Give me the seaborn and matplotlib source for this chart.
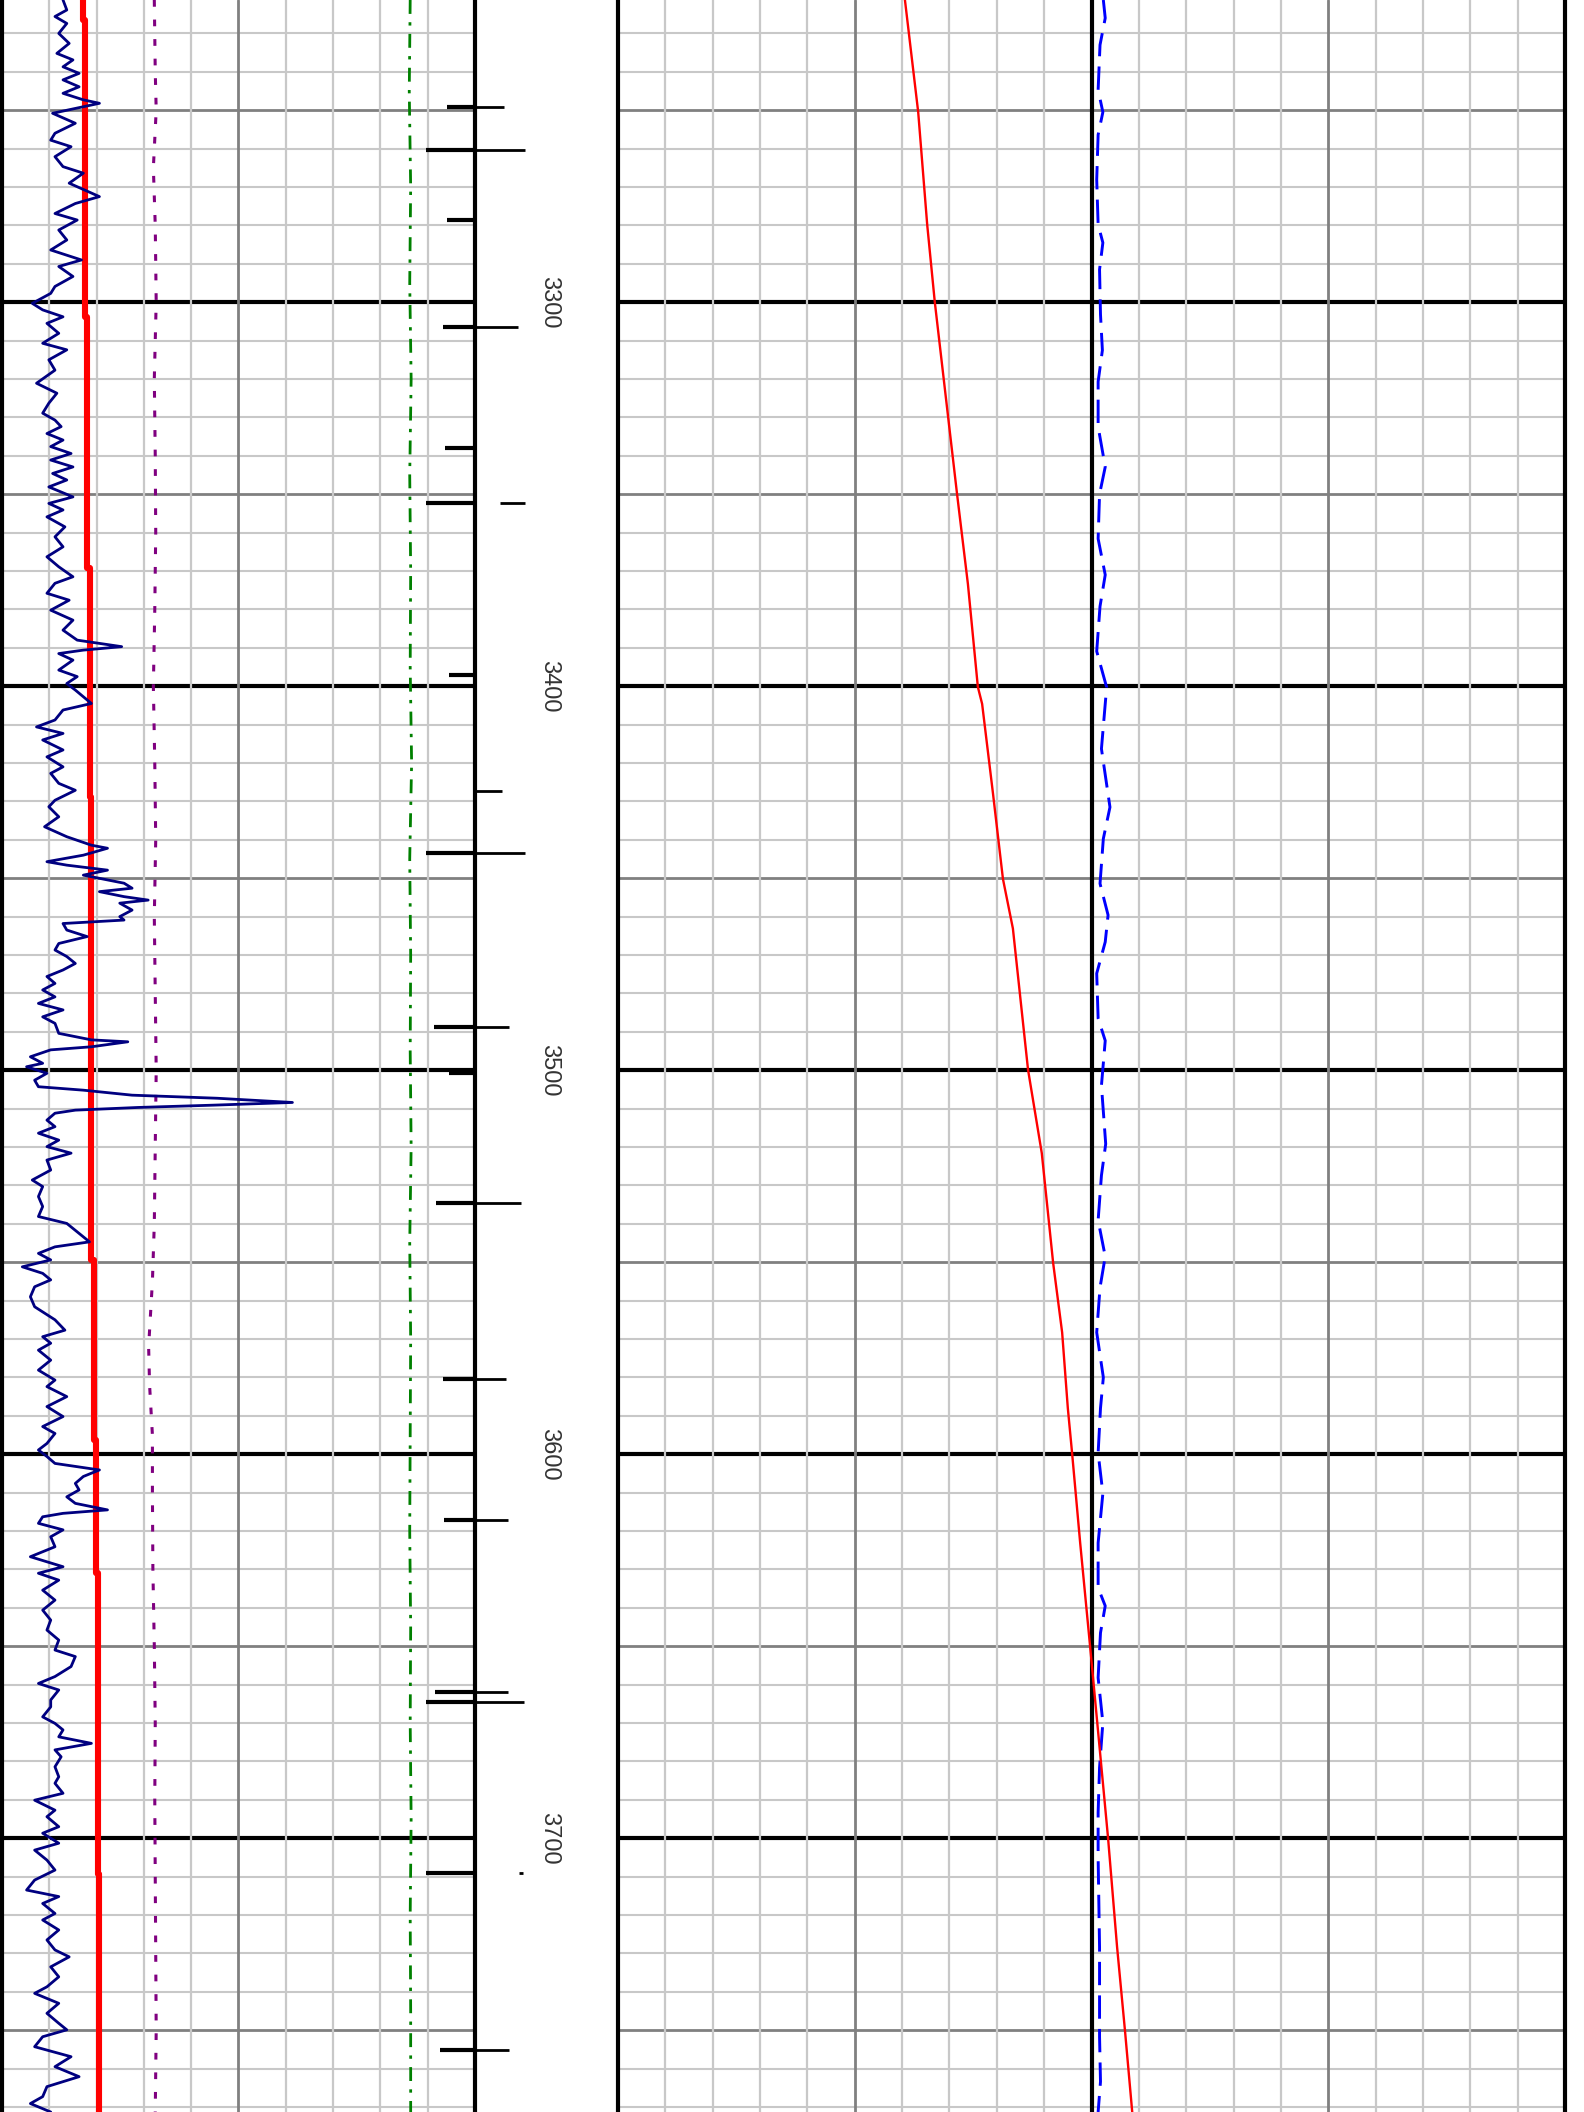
import matplotlib.pyplot as plt
import numpy as np
import pandas as pd
import seaborn as sns

# depth window shown (ft)
top, base = 3221.3, 3771.3

# left track, GR-like curve (scale 0-100 across the track)
gr_depth = [3221.3, 3223.9, 3225.6, 3227.4, 3230.0, 3232.6, 3235.2, 3236.9, 3238.7, 3240.4,
            3242.1, 3243.9, 3245.6, 3247.3, 3248.2, 3249.1, 3250.8, 3253.4, 3256.0, 3257.8,
            3259.5, 3262.1, 3264.7, 3266.4, 3269.0, 3272.5, 3274.3, 3276.9, 3278.6, 3281.2,
            3283.8, 3286.4, 3289.0, 3290.7, 3293.3, 3295.9, 3297.7, 3300.3, 3302.0, 3303.8,
            3305.5, 3308.1, 3310.7, 3312.4, 3315.0, 3317.7, 3321.1, 3323.7, 3326.3, 3328.9,
            3330.7, 3332.4, 3334.2, 3335.9, 3337.6, 3339.4, 3341.1, 3342.9, 3344.6, 3346.3,
            3348.1, 3350.7, 3352.4, 3354.1, 3355.9, 3358.5, 3361.1, 3363.7, 3366.3, 3368.9,
            3371.5, 3373.2, 3375.8, 3377.6, 3380.2, 3382.8, 3385.4, 3388.0, 3389.7, 3390.6,
            3391.5, 3393.2, 3395.8, 3397.5, 3399.3, 3401.0, 3404.5, 3406.2, 3408.8, 3410.6,
            3412.3, 3414.0, 3416.6, 3418.4, 3421.0, 3422.7, 3425.3, 3427.1, 3429.7, 3431.4,
            3434.0, 3436.6, 3439.2, 3441.4, 3442.2, 3444.0, 3445.7, 3446.6, 3447.9, 3449.2,
            3451.3, 3452.6, 3453.5, 3454.8, 3455.7, 3456.5, 3458.3, 3460.0, 3460.9, 3461.8,
            3463.5, 3465.2, 3467.0, 3468.7, 3470.4, 3472.2, 3473.9, 3475.6, 3477.4, 3479.1,
            3480.9, 3482.6, 3484.3, 3486.1, 3487.8, 3490.4, 3492.1, 3492.6, 3493.9, 3494.7,
            3496.5, 3498.2, 3499.1, 3500.8, 3502.6, 3504.3, 3505.2, 3506.5, 3507.3, 3508.4,
            3509.1, 3509.7, 3510.4, 3511.2, 3513.0, 3514.7, 3516.4, 3518.2, 3519.9, 3521.6,
            3523.4, 3526.0, 3528.6, 3530.3, 3532.9, 3535.5, 3538.1, 3539.9, 3542.5, 3544.7,
            3546.0, 3547.7, 3549.4, 3551.2, 3552.9, 3554.6, 3556.4, 3559.0, 3561.6, 3565.0,
            3567.7, 3569.4, 3571.1, 3572.9, 3575.5, 3578.1, 3580.7, 3582.4, 3585.0, 3587.6,
            3590.2, 3592.8, 3594.6, 3597.2, 3598.9, 3600.6, 3602.4, 3604.1, 3605.8, 3607.6,
            3609.3, 3611.1, 3612.8, 3614.5, 3615.4, 3616.3, 3618.0, 3619.7, 3621.5, 3624.1,
            3626.7, 3629.3, 3631.0, 3632.8, 3635.4, 3638.0, 3640.6, 3643.2, 3645.8, 3648.4,
            3651.0, 3652.7, 3655.3, 3657.9, 3659.7, 3661.4, 3664.0, 3665.8, 3668.4, 3670.1,
            3671.8, 3673.6, 3675.3, 3677.0, 3678.8, 3681.4, 3684.0, 3685.7, 3688.3, 3690.1,
            3692.7, 3694.4, 3697.0, 3698.7, 3701.3, 3703.1, 3705.7, 3708.3, 3710.9, 3713.5,
            3715.2, 3717.0, 3719.6, 3721.3, 3723.9, 3726.5, 3729.1, 3730.9, 3733.5, 3736.1,
            3738.7, 3740.4, 3743.0, 3745.6, 3748.2, 3749.9, 3751.7, 3754.3, 3756.9, 3759.5,
            3762.1, 3764.7, 3767.3, 3769.1, 3771.3]
gr_val = [12.9, 13.7, 11.2, 13.7, 12.0, 14.2, 11.6, 15.0, 12.9, 16.3,
          12.9, 16.3, 12.9, 17.2, 20.6, 17.2, 10.7, 15.5, 11.2, 10.3,
          14.6, 11.2, 12.9, 17.2, 14.2, 20.6, 15.5, 11.2, 15.9, 12.0,
          13.7, 10.3, 16.8, 12.0, 15.0, 11.2, 10.3, 6.4, 8.6, 12.9,
          9.5, 12.0, 8.6, 13.7, 9.9, 11.2, 7.3, 11.6, 9.9, 8.6,
          11.2, 12.5, 9.5, 12.9, 10.3, 14.6, 10.3, 15.0, 10.7, 13.7,
          9.9, 15.0, 9.9, 12.9, 9.5, 13.3, 11.2, 12.9, 9.5, 12.0,
          15.0, 11.2, 9.5, 14.2, 10.3, 15.0, 12.9, 15.9, 25.3, 17.2,
          12.0, 15.0, 12.0, 15.9, 13.7, 15.5, 18.9, 12.9, 11.2, 7.3,
          12.9, 8.6, 12.9, 9.5, 12.9, 10.3, 12.0, 15.5, 11.2, 9.9,
          12.0, 9.0, 13.7, 18.9, 22.3, 17.2, 9.5, 13.7, 22.3, 17.2,
          25.8, 27.5, 20.6, 25.8, 30.9, 24.9, 27.5, 24.9, 25.8, 12.9,
          13.7, 18.0, 12.0, 11.2, 13.7, 15.5, 12.9, 9.5, 11.2, 8.6,
          11.2, 7.7, 12.9, 8.6, 11.2, 12.0, 18.9, 26.6, 18.9, 10.3,
          6.0, 8.6, 5.2, 9.5, 6.9, 7.7, 17.2, 27.5, 45.5, 61.4,
          44.7, 28.8, 15.5, 11.2, 9.5, 11.2, 7.7, 12.0, 9.5, 14.6,
          9.5, 10.3, 6.4, 8.6, 7.7, 8.6, 7.7, 13.7, 16.3, 18.5,
          11.2, 7.7, 10.3, 4.3, 8.6, 10.3, 6.9, 6.0, 6.9, 11.2,
          13.3, 8.6, 10.3, 7.7, 10.3, 7.7, 11.2, 9.5, 13.7, 9.5,
          12.9, 8.6, 11.2, 9.5, 7.7, 9.5, 11.2, 20.6, 17.2, 15.5,
          16.3, 13.7, 15.5, 22.3, 12.9, 8.6, 7.7, 12.9, 10.3, 11.2,
          6.0, 12.9, 7.7, 12.0, 8.6, 11.2, 8.6, 10.3, 9.5, 12.0,
          11.2, 15.5, 14.6, 11.2, 7.7, 12.0, 10.3, 10.3, 8.6, 11.2,
          12.9, 12.0, 18.9, 11.2, 12.5, 11.2, 12.0, 11.2, 12.9, 6.9,
          11.2, 9.5, 12.0, 8.6, 12.0, 6.9, 9.5, 11.2, 6.9, 5.2,
          12.0, 8.6, 11.2, 8.6, 12.0, 9.5, 11.2, 14.2, 10.3, 12.0,
          9.5, 6.9, 12.0, 9.5, 12.0, 13.7, 8.6, 6.9, 14.6, 11.2,
          16.3, 9.5, 8.6, 6.0, 10.3]

# left track, thick red step curve
red_l_depth = [3221.3, 3226.5, 3303.8, 3369.3, 3428.8, 3549.4, 3596.3, 3631.0, 3709.2, 3771.3]
red_l_val = [17.2, 17.6, 18.0, 18.5, 18.9, 19.5, 19.9, 20.3, 20.6, 20.6]

# left track, purple dotted curve
pur_depth = [3221.3, 3240, 3250, 3265, 3280, 3300, 3320, 3340, 3360, 3380, 3400, 3420, 3440,
             3460, 3480, 3500, 3520, 3540, 3555, 3572, 3582, 3595, 3610, 3630, 3650, 3670,
             3690, 3710, 3730, 3750, 3771.3]
pur_val = [32.2, 32.4, 32.6, 32.0, 32.4, 32.6, 32.2, 32.4, 32.5, 32.3, 32.0, 32.3, 32.5,
           32.2, 32.4, 32.6, 32.4, 32.2, 31.8, 31.0, 31.2, 31.8, 31.8, 31.9, 32.2, 32.4,
           32.3, 32.4, 32.5, 32.6, 32.4]

# left track, green dash-dot curve
grn_depth = [3221.3, 3245, 3270, 3295, 3320, 3345, 3370, 3395, 3420, 3445, 3470, 3495, 3520,
             3545, 3570, 3595, 3620, 3645, 3670, 3695, 3720, 3745, 3771.3]
grn_val = [86.3, 86.1, 86.4, 86.2, 86.5, 86.2, 86.4, 86.3, 86.6, 86.2, 86.4, 86.3, 86.5,
           86.2, 86.4, 86.3, 86.2, 86.4, 86.3, 86.5, 86.3, 86.4, 86.4]

# right track (20 divisions), red curve
red_r_depth = [3221.3, 3250.5, 3279.8, 3299.9, 3338.2, 3349.9, 3373.4, 3400.2, 3404.6, 3428.0,
               3450.2, 3463.1, 3499.9, 3521.6, 3550.2, 3568.3, 3588.0, 3599.7, 3623.0, 3650.0,
               3669.7, 3700.0, 3728.3, 3750.5, 3771.3]
red_r_val = [6.06, 6.34, 6.53, 6.69, 7.05, 7.16, 7.39, 7.60, 7.69, 7.92,
             8.13, 8.34, 8.66, 8.95, 9.19, 9.38, 9.50, 9.59, 9.76, 9.97,
             10.12, 10.35, 10.54, 10.71, 10.86]

# right track, blue dashed curve
blu_depth = [3221.3, 3226.0, 3233.0, 3244.7, 3250.5, 3256.4, 3268.1, 3279.8, 3284.5, 3291.5,
             3303.2, 3312.5, 3320.7, 3332.4, 3342.9, 3350.0, 3361.6, 3371.0, 3379.2, 3390.9,
             3400.3, 3404.6, 3416.3, 3431.5, 3439.7, 3451.4, 3459.6, 3466.6, 3474.8, 3486.5,
             3492.3, 3504.0, 3519.2, 3527.4, 3539.1, 3548.5, 3556.6, 3568.3, 3580.0, 3588.0,
             3599.7, 3610.2, 3623.1, 3634.8, 3639.5, 3646.5, 3658.2, 3669.9, 3681.6, 3693.3,
             3705.0, 3728.4, 3751.7, 3763.4, 3771.3]
blu_val = [10.25, 10.29, 10.18, 10.14, 10.24, 10.14, 10.11, 10.14, 10.24, 10.17,
           10.19, 10.23, 10.14, 10.14, 10.29, 10.17, 10.14, 10.29, 10.18, 10.11,
           10.32, 10.29, 10.21, 10.39, 10.25, 10.18, 10.35, 10.29, 10.11, 10.14,
           10.29, 10.21, 10.30, 10.21, 10.14, 10.29, 10.18, 10.11, 10.25, 10.19,
           10.14, 10.24, 10.14, 10.14, 10.29, 10.19, 10.14, 10.24, 10.17, 10.14,
           10.14, 10.17, 10.17, 10.19, 10.14]

# depth-track event marks: reach into left track, and into depth track (fraction of its width)
mark_depth = [3249.2, 3260.4, 3278.6, 3306.5, 3338.0, 3352.3, 3397.1, 3427.3, 3443.4,
              3488.7, 3500.7, 3534.6, 3580.4, 3617.1, 3661.9, 3664.5, 3709.1, 3755.2]
mark_left = [0.196, 0.343, 0.196, 0.224, 0.21, 0.343, 0.18, 0.0, 0.343,
             0.29, 0.18, 0.27, 0.224, 0.217, 0.28, 0.343, 0.343, 0.245]
mark_right_from = [0, 0, 0, 0, 0, 0.175, 0, 0, 0,
                   0, 0, 0, 0, 0, 0, 0, 0.31, 0]
mark_right_to = [0.203, 0.35, 0.0, 0.30, 0.0, 0.35, 0.0, 0.19, 0.35,
                 0.24, 0.0, 0.32, 0.217, 0.23, 0.23, 0.34, 0.336, 0.24]

depth_labels = [3300, 3400, 3500, 3600, 3700]

sns.set_style("white")
plt.rcParams['font.family'] = ['Liberation Sans', 'DejaVu Sans']

W = 1584
fig = plt.figure(figsize=(15.84, 21.12), dpi=100, facecolor='white')
ax_l = fig.add_axes([2 / W, 0, 473 / W, 1])
ax_d = fig.add_axes([475 / W, 0, 143 / W, 1])
ax_r = fig.add_axes([618 / W, 0, 947 / W, 1])

LIGHT, MEDIUM = '#c8c8c8', '#808080'


def grid_track(ax, xmax, ndiv, medium_at, black_at):
    # horizontal depth lines first, vertical lines drawn over them
    for d in np.arange(3230, 3771, 10):
        if d % 100 == 0:
            ax.axhline(d, color='black', lw=3.0, zorder=0.7)
        elif d % 50 == 0:
            ax.axhline(d, color=MEDIUM, lw=2.0, zorder=0.6)
        else:
            ax.axhline(d, color=LIGHT, lw=1.5, zorder=0.5)
    step = xmax / ndiv
    for i in range(1, ndiv):
        x = i * step
        if i in black_at:
            ax.axvline(x, color='black', lw=3.0, zorder=1.2)
        elif i in medium_at:
            ax.axvline(x, color=MEDIUM, lw=2.0, zorder=1.1)
        else:
            ax.axvline(x, color=LIGHT, lw=1.6, zorder=1.0)
    ax.set_xlim(0, xmax)
    ax.set_ylim(base, top)
    ax.set_xticks([])
    ax.set_yticks([])
    ax.set_xlabel('')
    ax.set_ylabel('')
    for s in ['top', 'bottom']:
        ax.spines[s].set_visible(False)
    for s in ['left', 'right']:
        ax.spines[s].set_color('black')
        ax.spines[s].set_linewidth(3.0)
        ax.spines[s].set_zorder(3)


# left track curves
sns.lineplot(x=grn_val, y=grn_depth, orient='y', sort=False, estimator=None, ax=ax_l,
             color='#008000', lw=2.0, linestyle=(0, (5, 3, 1.2, 3)), zorder=2)
sns.lineplot(x=pur_val, y=pur_depth, orient='y', sort=False, estimator=None, ax=ax_l,
             color='#800080', lw=2.2, linestyle=(0, (2.2, 4.2)), zorder=2)
sns.lineplot(x=red_l_val, y=red_l_depth, orient='y', sort=False, estimator=None, ax=ax_l,
             color='#ff0000', lw=4.4, drawstyle='steps-pre', zorder=2.2)
sns.lineplot(x=gr_val, y=gr_depth, orient='y', sort=False, estimator=None, ax=ax_l,
             color='#000080', lw=2.0, zorder=2.4)
grid_track(ax_l, 100, 10, medium_at=[5], black_at=[])

# right track curves
sns.lineplot(x=blu_val, y=blu_depth, orient='y', sort=False, estimator=None, ax=ax_r,
             color='#0000ff', lw=2.1, linestyle=(0, (8, 3.5)), zorder=2.2)
sns.lineplot(x=red_r_val, y=red_r_depth, orient='y', sort=False, estimator=None, ax=ax_r,
             color='#ff0000', lw=1.7, zorder=2.4)
grid_track(ax_r, 20, 20, medium_at=[5, 15], black_at=[10])

# depth track
ax_d.patch.set_visible(False)
ax_d.set_xlim(0, 1)
ax_d.set_ylim(base, top)
ax_d.set_xticks([])
ax_d.set_yticks([])
for s in ax_d.spines.values():
    s.set_visible(False)

for d, l, r0, r1 in zip(mark_depth, mark_left, mark_right_from, mark_right_to):
    if l > 0:
        ax_d.hlines(d, -l, 0, color='black', lw=3.0, capstyle='butt', clip_on=False, zorder=4)
    if r1 > r0:
        ax_d.hlines(d, r0, r1, color='black', lw=2.0, capstyle='butt', clip_on=False, zorder=4)

for d in depth_labels:
    ax_d.text(0.52, d, str(d), rotation=-90, ha='center', va='center',
              fontsize=17, color='#333333', rotation_mode='anchor')

fig.savefig('out.png', dpi=100, facecolor='white')
